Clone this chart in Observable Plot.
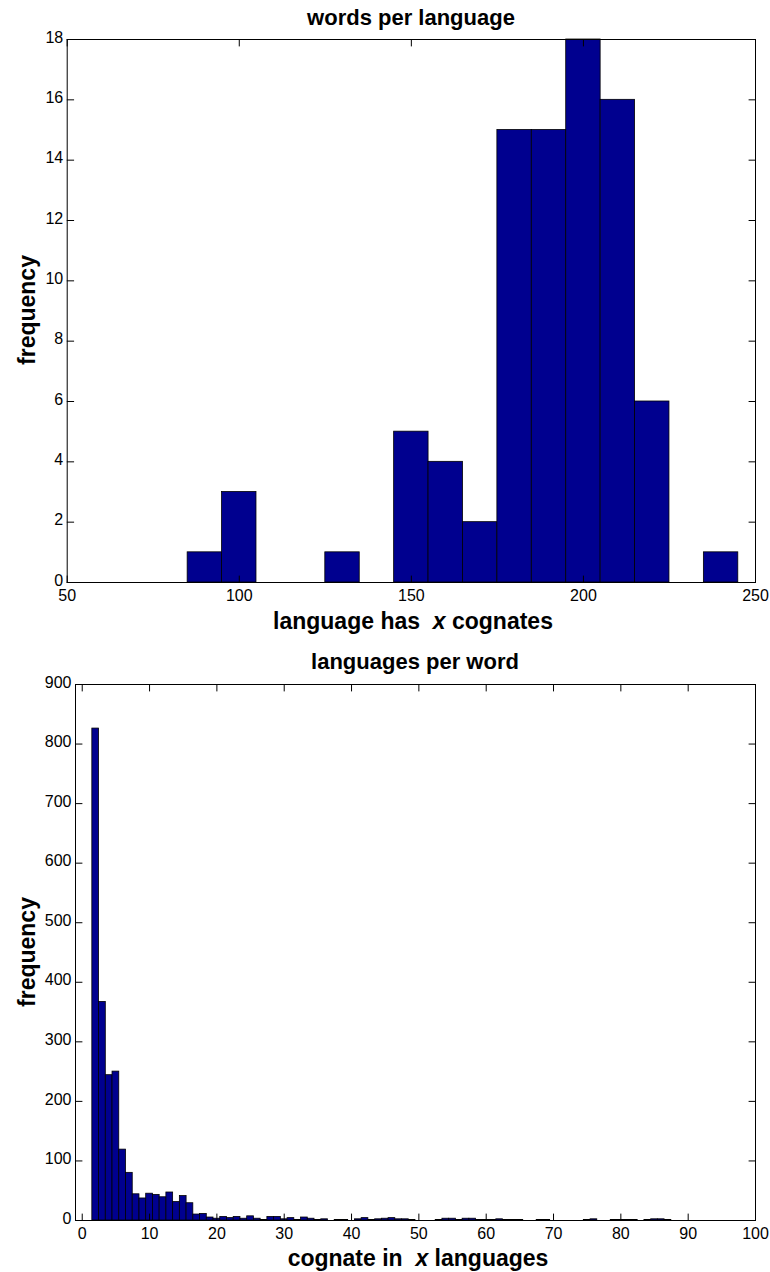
<!DOCTYPE html>
<html><head><meta charset="utf-8">
<script src="https://cdn.jsdelivr.net/npm/d3@7"></script>
<script src="https://cdn.jsdelivr.net/npm/@observablehq/plot@0.6"></script>
<style>
body{margin:0;background:#fff;}
#wrap{position:relative;width:770px;height:1272px;font-family:"Liberation Sans",Arial,sans-serif;overflow:hidden;}
.t{position:absolute;font-weight:bold;white-space:pre;color:#000;transform:translate(-50%,-50%);line-height:1;}
.yl{transform:translate(-50%,-50%) rotate(-90deg);}
.panel{position:absolute;left:0;}
</style></head><body><div id="wrap"></div>
<script>
// ---- top histogram: words per language ----
const wordsBinCenters = [90,100,110,120,130,140,150,160,170,180,190,200,210,220,230,240];
const wordsCounts     = [1, 3, 0, 0, 1, 0, 5, 4, 2, 15, 15, 18, 16, 6, 0, 1];
const wordsXTicks = [50,100,150,200,250];
const wordsYTicks = [0,2,4,6,8,10,12,14,16,18];
const wordsTitle = "words per language";

// ---- bottom histogram: languages per word ----
const langBinCenters = [2,3,4,5,6,7,8,9,10,11,12,13,14,15,16,17,18,19,20,21,22,23,24,25,26,27,28,29,30,
  31,32,33,34,35,36,37,38,39,40,41,42,43,44,45,46,47,48,49,50,51,52,53,54,55,56,57,58,59,60,
  61,62,63,64,65,66,67,68,69,70,71,72,73,74,75,76,77,78,79,80,81,82,83,84,85,86,87,88,89,90,
  91,92,93,94,95,96,97,98,99];
const langCounts = [826,367,244,250,119,80,44,37,45,43,39,47,31,41,29,10,11,5,3,6,4,6,3,7,3,1,6,6,2,
  4,1,5,3,1,2,0,1,1,0,2,4,1,2,3,4,2,2,1,0,0,0,1,3,3,1,3,3,1,1,
  1,2,1,1,1,0,0,1,1,0,0,0,0,0,1,2,0,0,1,1,1,1,0,1,2,2,1,0,0,0,
  0,0,0,0,0,0,0,0,0];
const langXTicks = [0,10,20,30,40,50,60,70,80,90,100];
const langYTicks = [0,100,200,300,400,500,600,700,800,900];
const langTitle = "languages per word";

const barFill = "#00008f";
const tickLine = {draw(ctx, l){ ctx.moveTo(0,0); ctx.lineTo(0,-l); }};

function frameTicks(xt, yt, xd, yd){
  const o = {length: 6.5, anchor: "start", shape: tickLine, stroke: "black", strokeWidth: 1};
  return [
    Plot.vector(xt, {...o, x: d => d, y: yd[0], rotate: 0}),
    Plot.vector(xt, {...o, x: d => d, y: yd[1], rotate: 180}),
    Plot.vector(yt, {...o, y: d => d, x: xd[0], rotate: 90}),
    Plot.vector(yt, {...o, y: d => d, x: xd[1], rotate: 270})
  ];
}

function hist({centers, counts, binWidth, xDomain, yDomain, xTicks, yTicks, height, margins}){
  const idx = centers.map((_, i) => i);
  return Plot.plot({
    width: 770, height,
    marginLeft: margins[0], marginRight: margins[1], marginTop: margins[2], marginBottom: margins[3],
    x: {domain: xDomain, label: null},
    y: {domain: yDomain, label: null},
    style: {fontFamily: "'Liberation Sans', Arial, sans-serif", fontSize: "16px", color: "black", background: "white", overflow: "visible"},
    marks: [
      Plot.rectY(idx, {x1: i => centers[i] - binWidth/2, x2: i => centers[i] + binWidth/2, y: i => counts[i],
        fill: barFill, stroke: "black", strokeWidth: 0.8}),
      Plot.frame({stroke: "black", strokeWidth: 1}),
      ...frameTicks(xTicks, yTicks, xDomain, yDomain),
      Plot.axisX(xTicks, {anchor: "bottom", tickSize: 0, tickPadding: 7, label: null, fontSize: 16}),
      Plot.axisY(yTicks, {anchor: "left", tickSize: 0, tickPadding: 4, label: null, fontSize: 16, dy: -2})
    ]
  });
}

const wrap = document.getElementById("wrap");
function place(el, top){ el.classList.add("panel"); el.style.top = top + "px"; wrap.appendChild(el); }
function text(html, x, y, size, cls){
  const d = document.createElement("div");
  d.className = "t" + (cls ? " " + cls : "");
  d.innerHTML = html; d.style.left = x + "px"; d.style.top = y + "px"; d.style.fontSize = size + "px";
  wrap.appendChild(d);
}

place(hist({centers: wordsBinCenters, counts: wordsCounts, binWidth: 10, xDomain: [50, 250], yDomain: [0, 18],
  xTicks: wordsXTicks, yTicks: wordsYTicks, height: 640, margins: [66.7, 15, 39, 58]}), 0);
place(hist({centers: langBinCenters, counts: langCounts, binWidth: 1, xDomain: [-1, 100], yDomain: [0, 900],
  xTicks: langXTicks, yTicks: langYTicks, height: 632, margins: [75, 15, 44, 52]}), 640);

text(wordsTitle, 411, 18, 22);
text("language has  <i>x</i> cognates", 413, 621, 23);
text("frequency", 27, 310, 23, "yl");
text(langTitle, 415, 662, 22);
text("cognate in  <i>x</i> languages", 418, 1258, 23);
text("frequency", 27, 952, 23, "yl");
</script></body></html>
